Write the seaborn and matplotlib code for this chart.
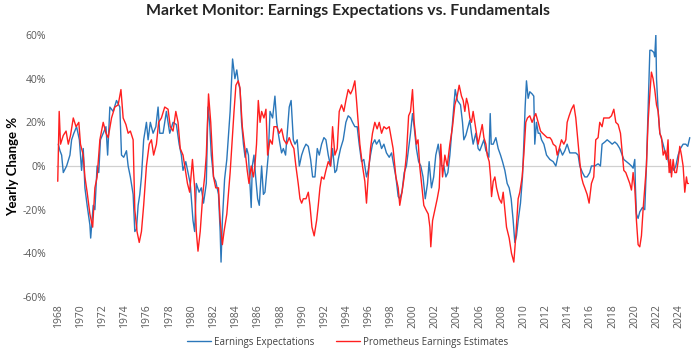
import pandas as pd
import numpy as np
import matplotlib
matplotlib.use("Agg")
import matplotlib.pyplot as plt
import seaborn as sns

# ============================================================
# Market Monitor: Earnings Expectations vs. Fundamentals
# values (yearly change, %)
# ============================================================

EXP_LABEL = "Earnings Expectations"
PRO_LABEL = "Prometheus Earnings Estimates"

exp_years = [
    1968.0, 1968.15, 1968.3, 1968.45, 1968.75, 1969.05, 1969.2, 1969.4, 1969.65, 1969.9,
    1970.1, 1970.25, 1970.4, 1970.6, 1970.85, 1970.92, 1971.15, 1971.3, 1971.5, 1971.65,
    1971.8, 1972.05, 1972.3, 1972.45, 1972.65, 1972.95, 1973.25, 1973.55, 1973.7, 1973.9,
    1974.15, 1974.3, 1974.5, 1974.75, 1974.9, 1975.05, 1975.2, 1975.35, 1975.5, 1975.7,
    1975.95, 1976.1, 1976.3, 1976.55, 1976.8, 1977.0, 1977.15, 1977.45, 1977.75, 1978.05,
    1978.35, 1978.65, 1978.9, 1979.1, 1979.25, 1979.5, 1979.7, 1979.9, 1980.15, 1980.3,
    1980.45, 1980.7, 1980.9, 1981.1, 1981.35, 1981.5, 1981.65, 1981.8, 1982.0, 1982.2,
    1982.45, 1982.6, 1982.68, 1982.8, 1983.0, 1983.2, 1983.5, 1983.72, 1983.93, 1984.1,
    1984.25, 1984.4, 1984.53, 1984.7, 1984.85, 1985.0, 1985.15, 1985.3, 1985.4, 1985.5,
    1985.65, 1985.8, 1985.98, 1986.13, 1986.34, 1986.5, 1986.64, 1986.8, 1986.94, 1987.1,
    1987.33, 1987.54, 1987.7, 1987.84, 1988.0, 1988.14, 1988.3, 1988.5, 1988.65, 1988.83,
    1989.0, 1989.2, 1989.35, 1989.55, 1989.74, 1989.95, 1990.15, 1990.34, 1990.55, 1990.76,
    1990.94, 1991.15, 1991.36, 1991.54, 1991.75, 1991.96, 1992.14, 1992.35, 1992.56, 1992.74,
    1992.95, 1993.1, 1993.25, 1993.46, 1993.7, 1993.94, 1994.15, 1994.36, 1994.54, 1994.75,
    1994.96, 1995.14, 1995.35, 1995.56, 1995.8, 1995.95, 1996.16, 1996.34, 1996.55, 1996.7,
    1996.95, 1997.16, 1997.37, 1997.6, 1997.85, 1998.06, 1998.2, 1998.45, 1998.66, 1998.8,
    1999.0, 1999.2, 1999.4, 1999.6, 1999.77, 1999.95, 2000.1, 2000.3, 2000.5, 2000.7,
    2000.9, 2001.1, 2001.3, 2001.45, 2001.66, 2001.86, 2002.05, 2002.27, 2002.4, 2002.56,
    2002.78, 2002.96, 2003.14, 2003.32, 2003.56, 2003.8, 2004.0, 2004.28, 2004.46, 2004.58,
    2004.76, 2004.97, 2005.12, 2005.27, 2005.42, 2005.66, 2005.87, 2006.02, 2006.24, 2006.39,
    2006.57, 2006.69, 2006.84, 2006.96, 2007.05, 2007.23, 2007.47, 2007.68, 2007.89, 2008.07,
    2008.28, 2008.49, 2008.67, 2008.85, 2009.03, 2009.18, 2009.33, 2009.48, 2009.69, 2009.87,
    2009.99, 2010.11, 2010.23, 2010.38, 2010.53, 2010.74, 2010.89, 2010.98, 2011.13, 2011.29,
    2011.44, 2011.59, 2011.8, 2012.04, 2012.19, 2012.34, 2012.64, 2012.88, 2013.09, 2013.24,
    2013.48, 2013.69, 2013.9, 2014.14, 2014.44, 2014.68, 2014.89, 2015.04, 2015.28, 2015.49,
    2015.7, 2015.94, 2016.09, 2016.39, 2016.69, 2016.9, 2017.05, 2017.3, 2017.51, 2017.75,
    2017.96, 2018.2, 2018.41, 2018.65, 2018.86, 2019.01, 2019.25, 2019.49, 2019.7, 2019.85,
    2020.0, 2020.06, 2020.15, 2020.3, 2020.45, 2020.69, 2020.9, 2021.05, 2021.2, 2021.36,
    2021.5, 2021.72, 2021.8, 2021.9, 2021.96, 2022.11, 2022.26, 2022.5, 2022.71, 2022.92,
    2023.1, 2023.22, 2023.4, 2023.52, 2023.7, 2023.91, 2024.12, 2024.36, 2024.6, 2024.78,
    2024.96,
]
exp_values = [
    10, 7, 5, -3, 0, 5, 12, 15, 18, 12,
    -2, 8, -10, -18, -27, -33, -18, -20, 0, -3,
    12, 15, 18, 5, 27, 25, 30, 27, 5, 4,
    7, 0, -5, -13, -30, -29, -18, -13, -5, 12,
    20, 12, 20, 15, 18, 27, 15, 15, 25, 15,
    20, 19, 10, 5, -2, 2, -3, -8, -25, -30,
    -8, -12, -10, -17, -8, 27, 20, 5, -5, -7,
    -13, -30, -44, -25, -6, 3, 25, 49, 40, 44,
    38, 35, 20, 10, 4, 8, 5, -10, -19, 0,
    5, -5, -15, -18, 0, -13, -12, -3, 5, 25,
    22, 32, 20, 15, 10, 6, 8, 5, 15, 27,
    30, 12, 10, 12, 0, 5, 8, 10, 9, 3,
    -5, -5, 8, 5, 10, 13, 12, 5, 0, 8,
    -3, -2, 3, 8, 12, 20, 23, 22, 20, 18,
    18, 10, 2, 3, -5, -2, 5, 10, 12, 10,
    12, 8, 10, 6, 4, 6, 2, -5, -14, -15,
    -12, -3, 0, 8, 15, 24, 18, 8, 2, 0,
    -5, -15, -8, 2, -10, -5, 5, 10, 5, 0,
    0, -5, -3, 5, 20, 35, 30, 28, 20, 12,
    14, 18, 21, 15, 10, 15, 8, 7, 10, 12,
    7, 6, 4, 24, 10, 10, 13, 8, 5, 2,
    -2, -8, -10, -15, -25, -35, -32, -25, -17, -5,
    10, 27, 39, 31, 34, 33, 32, 10, 20, 15,
    15, 12, 10, 5, 4, 3, 2, 0, 5, 8,
    5, 7, 10, 6, 6, 6, 5, 0, -3, -5,
    -5, -3, 0, 0, 1, 0, 10, 11, 12, 11,
    10, 11, 10, 8, 5, 3, 2, 1, 0, -1,
    3, -10, -22, -24, -21, -19, -20, 0, 25, 53,
    53, 52, 50, 60, 40, 25, 15, 11, 7, 5,
    0, -3, 0, -2, 0, 5, 8, 10, 10, 9,
    13,
]

pro_years = [
    1967.95, 1968.08, 1968.2, 1968.45, 1968.7, 1968.9, 1969.1, 1969.35, 1969.6, 1969.85,
    1970.0, 1970.25, 1970.4, 1970.6, 1970.85, 1971.1, 1971.3, 1971.5, 1971.75, 1972.05,
    1972.3, 1972.5, 1972.8, 1973.1, 1973.4, 1973.65, 1973.85, 1974.1, 1974.3, 1974.5,
    1974.75, 1974.9, 1975.1, 1975.3, 1975.5, 1975.7, 1975.95, 1976.2, 1976.4, 1976.6,
    1976.85, 1977.05, 1977.3, 1977.6, 1977.9, 1978.1, 1978.35, 1978.6, 1978.8, 1979.0,
    1979.25, 1979.4, 1979.65, 1979.85, 1980.1, 1980.3, 1980.45, 1980.6, 1980.8, 1981.05,
    1981.2, 1981.35, 1981.55, 1981.75, 1982.0, 1982.2, 1982.45, 1982.6, 1982.8, 1982.95,
    1983.2, 1983.5, 1983.72, 1983.85, 1984.02, 1984.23, 1984.38, 1984.6, 1984.83, 1985.04,
    1985.2, 1985.4, 1985.6, 1985.73, 1985.88, 1986.04, 1986.2, 1986.34, 1986.55, 1986.73,
    1986.88, 1987.1, 1987.3, 1987.45, 1987.7, 1987.93, 1988.14, 1988.35, 1988.6, 1988.83,
    1989.04, 1989.25, 1989.43, 1989.64, 1989.8, 1989.95, 1990.1, 1990.34, 1990.55, 1990.7,
    1990.88, 1991.08, 1991.3, 1991.45, 1991.6, 1991.75, 1991.96, 1992.14, 1992.35, 1992.56,
    1992.74, 1992.95, 1993.16, 1993.34, 1993.55, 1993.76, 1993.94, 1994.15, 1994.36, 1994.54,
    1994.75, 1994.9, 1995.05, 1995.2, 1995.44, 1995.65, 1995.8, 1995.95, 1996.16, 1996.34,
    1996.55, 1996.76, 1996.95, 1997.16, 1997.37, 1997.6, 1997.85, 1998.06, 1998.2, 1998.45,
    1998.66, 1998.8, 1999.0, 1999.2, 1999.4, 1999.6, 1999.77, 1999.95, 2000.1, 2000.3,
    2000.45, 2000.6, 2000.76, 2000.97, 2001.16, 2001.37, 2001.52, 2001.6, 2001.76, 2001.97,
    2002.18, 2002.36, 2002.5, 2002.66, 2002.87, 2003.08, 2003.32, 2003.56, 2003.77, 2003.98,
    2004.16, 2004.37, 2004.52, 2004.67, 2004.82, 2004.97, 2005.12, 2005.27, 2005.42, 2005.57,
    2005.72, 2005.87, 2006.08, 2006.24, 2006.39, 2006.57, 2006.69, 2006.87, 2006.99, 2007.08,
    2007.23, 2007.38, 2007.53, 2007.77, 2007.98, 2008.13, 2008.28, 2008.43, 2008.67, 2008.88,
    2009.09, 2009.27, 2009.48, 2009.63, 2009.84, 2009.99, 2010.17, 2010.32, 2010.53, 2010.74,
    2010.89, 2011.07, 2011.29, 2011.5, 2011.68, 2011.89, 2012.1, 2012.34, 2012.49, 2012.64,
    2012.88, 2013.0, 2013.18, 2013.39, 2013.6, 2013.78, 2013.9, 2014.08, 2014.29, 2014.5,
    2014.68, 2014.89, 2015.04, 2015.19, 2015.34, 2015.49, 2015.7, 2015.88, 2016.09, 2016.3,
    2016.48, 2016.69, 2016.84, 2017.05, 2017.2, 2017.45, 2017.69, 2017.9, 2018.11, 2018.29,
    2018.5, 2018.71, 2018.89, 2019.01, 2019.19, 2019.4, 2019.55, 2019.7, 2019.85, 2020.0,
    2020.15, 2020.3, 2020.45, 2020.6, 2020.75, 2020.9, 2021.05, 2021.2, 2021.36, 2021.5,
    2021.65, 2021.8, 2021.96, 2022.11, 2022.26, 2022.41, 2022.56, 2022.71, 2022.86, 2023.0,
    2023.1, 2023.22, 2023.31, 2023.46, 2023.61, 2023.76, 2023.91, 2024.06, 2024.21, 2024.36,
    2024.51, 2024.66, 2024.75, 2024.84,
]
pro_values = [
    -7, 25, 10, 14, 16, 10, 14, 22, 18, 20,
    10, 5, -5, -12, -22, -28, -10, -5, 12, 20,
    15, 13, 22, 27, 28, 35, 22, 19, 15, 16,
    12, -20, -30, -35, -30, -18, 0, 10, 12, 5,
    10, 20, 22, 27, 26, 18, 16, 25, 20, 8,
    5, 0, -8, -12, 3, -10, -30, -39, -30, -12,
    -5, 5, 33, 20, -5, -10, -10, -25, -36, -30,
    -22, -3, 15, 25, 37, 39, 36, 18, 8, -2,
    -8, 0, -5, 0, 10, 30, 20, 25, 22, 26,
    5, 12, 10, 18, 18, 15, 17, 12, 10, 13,
    10, 8, 0, -8, -15, -17, -15, -15, -12, -18,
    -28, -32, -25, -18, -10, -5, -6, -2, 2, 0,
    18, 5, 8, 25, 28, 25, 30, 35, 33, 35,
    39, 30, 20, 10, 0, -7, -17, -5, 8, 15,
    20, 17, 20, 15, 18, 17, 18, 12, 8, -5,
    -10, -18, -12, -5, 5, 23, 25, 35, 20, 10,
    12, 0, -8, -18, -20, -22, -28, -37, -25, -20,
    -15, -10, 10, -5, 5, 0, 10, 18, 28, 32,
    37, 32, 30, 25, 31, 28, 22, 20, 25, 20,
    15, 10, 15, 19, 13, 10, 5, 2, -5, -14,
    -7, -5, -10, -15, -17, -12, -20, -28, -33, -40,
    -44, -32, -15, -12, -5, 5, 20, 22, 23, 20,
    22, 24, 20, 16, 15, 14, 13, 13, 12, 10,
    9, 5, 8, 12, 10, 12, 20, 23, 26, 28,
    22, 10, 2, -5, -8, -10, -13, -17, -8, -5,
    12, 13, 20, 18, 22, 22, 22, 23, 26, 20,
    19, 15, 5, -2, -3, -6, -8, -11, -3, -10,
    -25, -36, -37, -32, -20, -10, 0, 20, 33, 43,
    40, 35, 28, 25, 15, 13, 5, 7, 3, 12,
    -3, 3, -5, 3, -3, -3, 2, 9, 5, 0,
    -12, -5, -8, -8,
]

y_ticks = [-60, -40, -20, 0, 20, 40, 60]
x_ticks = list(range(1968, 2025, 2))

BLUE = "#2B77BA"
RED = "#FF1F1F"


def main():
    sns.set_theme(style="white")
    plt.rcParams["font.family"] = ["Open Sans", "DejaVu Sans"]

    df = pd.concat([
        pd.DataFrame({"year": exp_years, "change": exp_values, "series": EXP_LABEL}),
        pd.DataFrame({"year": pro_years, "change": pro_values, "series": PRO_LABEL}),
    ], ignore_index=True)

    fig = plt.figure(figsize=(6.95, 3.57), dpi=100)
    ax = fig.add_axes([0.0807, 0.168, 0.914, 0.734])

    ax.axhline(0, color="#d0d0d0", lw=0.9, zorder=0)
    sns.lineplot(
        data=df, x="year", y="change", hue="series",
        hue_order=[EXP_LABEL, PRO_LABEL],
        palette={EXP_LABEL: BLUE, PRO_LABEL: RED},
        estimator=None, sort=False, lw=1.0, ax=ax, legend=True,
    )

    ax.set_xlim(1967.8, 2025.1)
    ax.set_ylim(-60, 60)
    ax.set_yticks(y_ticks)
    ax.set_yticklabels([f"{v}%" for v in y_ticks])
    ax.set_xticks(x_ticks)
    ax.set_xticklabels([str(x) for x in x_ticks], rotation=90)
    ax.tick_params(axis="both", labelsize=7.5, colors="#595959", length=0)
    ax.tick_params(axis="y", pad=7)
    ax.tick_params(axis="x", pad=5)
    for s in ax.spines.values():
        s.set_visible(False)

    ax.set_xlabel("")
    ax.set_ylabel("Yearly Change %", fontsize=9.5, fontweight="bold", color="black",
                  family=["Lato", "DejaVu Sans"])
    # label anchor is its right edge (rotated text), keep it clear of the figure edge
    ax.yaxis.set_label_coords(-0.058, 0.5)

    fig.suptitle("Market Monitor: Earnings Expectations vs. Fundamentals",
                 x=0.5, y=0.99, fontsize=11.4, fontweight="bold",
                 family=["Lato", "DejaVu Sans"])

    handles, labels = ax.get_legend_handles_labels()
    ax.get_legend().remove()
    fig.legend(handles, labels, loc="center", bbox_to_anchor=(0.5, 0.042), ncol=2,
               frameon=False, fontsize=7, handlelength=2.5, handletextpad=0.3,
               columnspacing=2.2, labelcolor="#404040")

    fig.savefig("out.png", dpi=100)


if __name__ == "__main__":
    main()
